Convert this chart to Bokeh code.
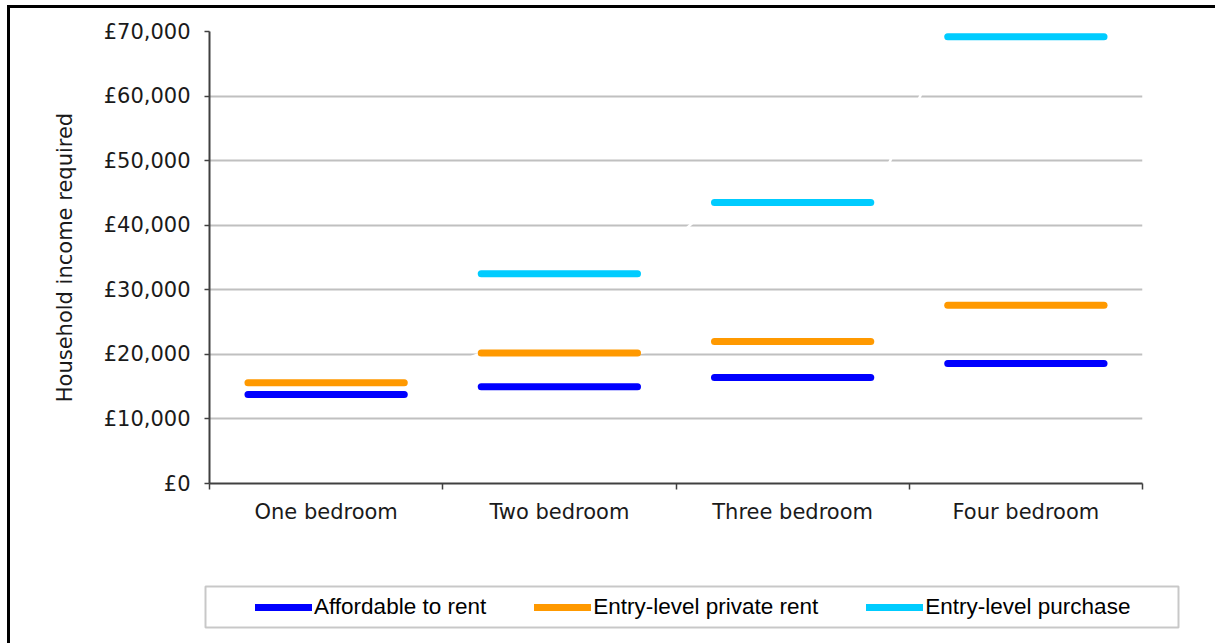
from bokeh.plotting import figure
from bokeh.layouts import column
from bokeh.models import (FixedTicker, Legend, LegendItem, BoxAnnotation, Range1d,
                          ColumnDataSource)
from bokeh.embed import file_html
from bokeh.resources import INLINE

# ---- data ----
categories = ["One bedroom", "Two bedroom", "Three bedroom", "Four bedroom"]
affordable_rent = [13800, 15000, 16400, 18600]
private_rent = [15600, 20200, 22000, 27600]
entry_purchase = [float("nan"), 32500, 43500, 69200]
series_names = ["Affordable to rent", "Entry-level private rent", "Entry-level purchase"]
y_ticks = [0, 10000, 20000, 30000, 40000, 50000, 60000, 70000]
y_tick_labels = ["£0", "£10,000", "£20,000", "£30,000", "£40,000", "£50,000", "£60,000", "£70,000"]

# ---- style / layout ----
colors = ["#0000FF", "#FF9900", "#00CCFF"]
OFF_X, OFF_Y = 10, 8          # content offset inside the outer black frame
CW, CH = 1215 - OFF_X, 643 - OFF_Y
H1 = 560
FRAME_L, FRAME_R, FRAME_T, FRAME_B = 209 - OFF_X, 1142 - OFF_X, 31 - OFF_Y, 483 - OFF_Y
HW = 0.335
FONT = "DejaVu Sans"
LFONT = "Liberation Sans"

centers = [i + 0.5 for i in range(len(categories))]

p = figure(width=CW, height=H1, output_backend="svg", toolbar_location=None,
           x_range=Range1d(0, len(categories)), y_range=Range1d(0, 70000),
           min_border_left=FRAME_L, min_border_right=CW - FRAME_R,
           min_border_top=FRAME_T, min_border_bottom=H1 - FRAME_B)
p.outline_line_color = None

p.xgrid.visible = False
p.ygrid.ticker = FixedTicker(ticks=y_ticks)
p.ygrid.grid_line_color = "#C0C0C0"
p.ygrid.grid_line_width = 2

# x axis
xa = p.xaxis[0]
xa.ticker = FixedTicker(ticks=centers, minor_ticks=list(range(len(categories) + 1)))
xa.major_label_overrides = {c: n for c, n in zip(centers, categories)}
xa.major_tick_out = 0
xa.major_tick_in = 0
xa.minor_tick_out = 6
xa.minor_tick_in = 0
xa.minor_tick_line_color = "#404040"
xa.minor_tick_line_width = 1.5
xa.axis_line_color = "#404040"
xa.axis_line_width = 2
xa.major_label_standoff = 10
xa.major_label_text_font = FONT
xa.major_label_text_font_size = "21px"
xa.major_label_text_color = "#1a1a1a"

# y axis
ya = p.yaxis[0]
ya.ticker = FixedTicker(ticks=y_ticks, minor_ticks=[])
ya.major_label_overrides = {t: l for t, l in zip(y_ticks, y_tick_labels)}
ya.major_tick_out = 5
ya.major_tick_in = 0
ya.major_tick_line_color = "#404040"
ya.major_tick_line_width = 1.5
ya.axis_line_color = "#404040"
ya.axis_line_width = 2
ya.major_label_standoff = 14
ya.major_label_text_font = FONT
ya.major_label_text_font_size = "21px"
ya.major_label_text_color = "#1a1a1a"
ya.axis_label = "Household income required"
ya.axis_label_text_font = FONT
ya.axis_label_text_font_size = "21px"
ya.axis_label_text_font_style = "normal"
ya.axis_label_text_color = "#1a1a1a"
ya.axis_label_standoff = 24

all_series = [affordable_rent, private_rent, entry_purchase]

# faint white connectors between category segments
for vals in all_series:
    src = ColumnDataSource(dict(
        x0=[c + HW for c in centers[:-1]], y0=vals[:-1],
        x1=[c - HW for c in centers[1:]], y1=vals[1:]))
    p.segment(x0="x0", y0="y0", x1="x1", y1="y1", source=src,
              line_color="white", line_width=2.5)

for vals, col in zip(all_series, colors):
    src = ColumnDataSource(dict(x0=[c - HW for c in centers],
                                x1=[c + HW for c in centers], y=vals))
    p.segment(x0="x0", y0="y", x1="x1", y1="y", source=src,
              line_color=col, line_width=7, line_cap="round")

# ---- legend strip (second figure) ----
H2 = CH - H1
q = figure(width=CW, height=H2, output_backend="svg", toolbar_location=None,
           x_range=Range1d(0, CW), y_range=Range1d(0, H2),
           x_axis_type=None, y_axis_type=None,
           min_border_left=0, min_border_right=0, min_border_top=0, min_border_bottom=0)
q.outline_line_color = None
q.xgrid.visible = False
q.ygrid.visible = False
for fig in (p, q):
    try:
        fig.frame_align = False
    except Exception:
        pass

leg_renderers = []
for col in colors:
    # one off-screen row so the legend has something to style its glyph from
    src = ColumnDataSource(dict(x0=[-50], y0=[-50], x1=[-40], y1=[-50]))
    leg_renderers.append(q.segment(x0="x0", y0="y0", x1="x1", y1="y1", source=src,
                                   line_color=col, line_width=7, line_cap="round"))

box_top_page, box_bot_page = 586, 627
box_left_page, box_right_page = 205, 1178
q.add_layout(BoxAnnotation(left=box_left_page - OFF_X, right=box_right_page - OFF_X,
                           top=H2 - (box_top_page - OFF_Y - H1),
                           bottom=H2 - (box_bot_page - OFF_Y - H1),
                           fill_alpha=0, line_color="#4a4a4a", line_width=2))

legend = Legend(items=[LegendItem(label=n, renderers=[r]) for n, r in zip(series_names, leg_renderers)],
                orientation="horizontal", location=(255 - OFF_X, 23), padding=0, margin=0,
                spacing=48, label_standoff=2, glyph_width=57, glyph_height=22,
                label_text_font=LFONT, label_text_font_size="22.5px",
                label_text_color="#000000", label_height=22,
                border_line_alpha=0, background_fill_alpha=0)
q.add_layout(legend, "center")

layout = column(p, q, spacing=0, margin=(5, 0, 0, 7),
                styles={"border-left": "3px solid black", "border-top": "3px solid black"})

open("out.html", "w").write(file_html(layout, INLINE))
